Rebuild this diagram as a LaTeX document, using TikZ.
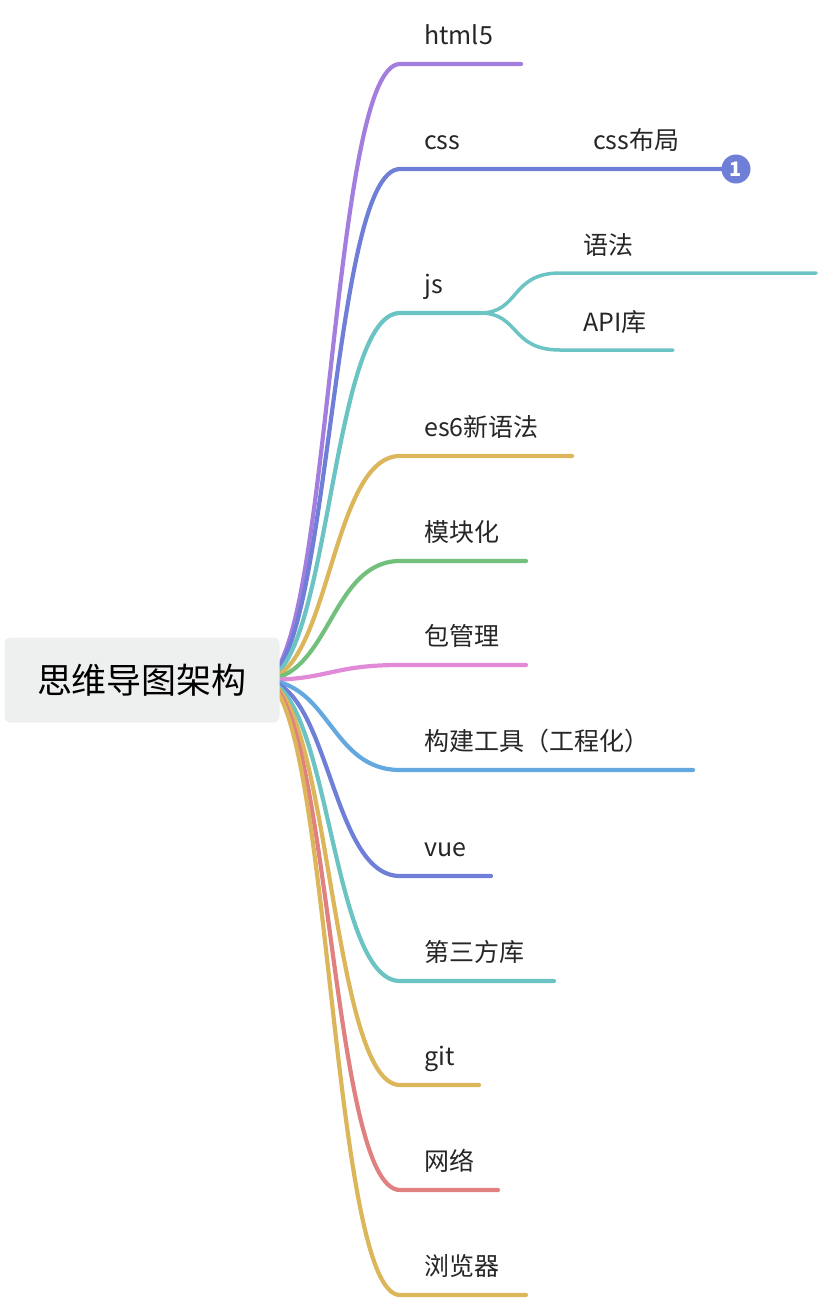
\documentclass[tikz,border=0pt]{standalone}
\usepackage{fontspec}
\setmainfont{Noto Sans CJK SC}
\usetikzlibrary{calc}
\definecolor{cPurple}{HTML}{A47EDE}
\definecolor{cBlue}{HTML}{6F7FD8}
\definecolor{cTeal}{HTML}{6CC3C3}
\definecolor{cGold}{HTML}{DCB65A}
\definecolor{cGreen}{HTML}{72C07C}
\definecolor{cPink}{HTML}{E08AD8}
\definecolor{cSky}{HTML}{63A9E0}
\definecolor{cRed}{HTML}{E08080}
\definecolor{cRoot}{HTML}{EEF0EF}
\tikzset{
  branch/.style = {line width = 4.2pt, line cap = round},
  lbl/.style = {anchor = base west, inner sep = 0pt, font = \fontsize{25}{25}\selectfont, text = black!85}
}
\begin{document}
\begin{tikzpicture}[x=1pt, y=-1pt]
\useasboundingbox (0,0) rectangle (818,1302);
% main branches
\foreach \y/\e/\c/\t/\n in {64/521/cPurple/html5/b1, 169/735/cBlue/css/b2, 313/480/cTeal/js/b3, 456/572/cGold/es6新语法/b4, 561/526/cGreen/模块化/b5, 665/526/cPink/包管理/b6, 770/693/cSky/构建工具（工程化）/b7, 876/491/cBlue/vue/b8, 981/554/cTeal/第三方库/b9, 1085/479/cGold/git/b10, 1190/498/cRed/网络/b11, 1295/526/cGold/浏览器/b12}{
  \coordinate (\n s) at (262,680);
  \coordinate (\n e) at (\e,\y);
  \draw[branch, \c] (\n s) .. controls (330,680) and (330,\y) .. (400,\y) -- (\n e);
  \node[lbl, name = \n] at (424,\y-20) {\t};
}
% css sub topic
\node[lbl, name = cssl] at (593,149) {css布局};
\node[circle, fill = cBlue, text = white, inner sep = 0pt, minimum size = 29pt, font = \bfseries\fontsize{20}{20}\selectfont, name = badge] at (736,169) {1};
% js sub topics
\coordinate (j1) at (816,273);
\coordinate (j2) at (673,350);
\draw[branch, cTeal, line width = 3.5pt] (b3e) .. controls (520,313) and (510,273) .. (560,273) -- (j1);
\draw[branch, cTeal, line width = 3.5pt] (b3e) .. controls (520,313) and (510,350) .. (560,350) -- (j2);
\node[lbl, name = j1l] at (583,254) {语法};
\node[lbl, name = j2l] at (583,331) {API库};
% root
\node[rectangle, rounded corners = 6pt, fill = cRoot, minimum width = 275pt, minimum height = 85pt, font = \fontsize{35}{35}\selectfont, name = root] at (142,680) {思维导图架构};
\end{tikzpicture}
\end{document}
